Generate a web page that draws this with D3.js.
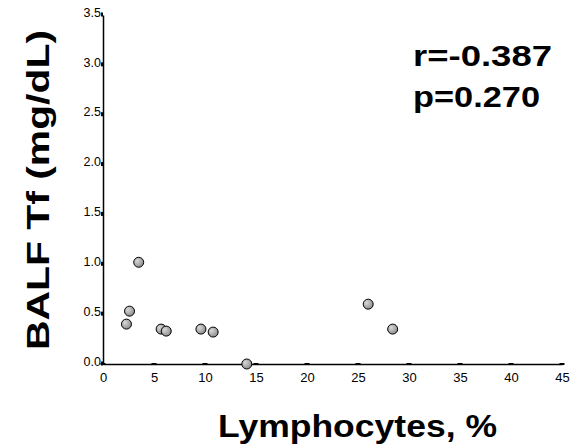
<!DOCTYPE html>
<html><head><meta charset="utf-8">
<script src="https://cdn.jsdelivr.net/npm/d3@7"></script>
<style>body{margin:0;background:#fff}</style></head>
<body><svg id="c" width="571" height="447"></svg>
<script>
const xTicks=[0,5,10,15,20,25,30,35,40,45];
const yTicks=[0.0,0.5,1.0,1.5,2.0,2.5,3.0,3.5];
const lymph=[2.3,2.6,3.5,5.7,6.2,9.6,10.8,14.1,26.0,28.4];
const tf=[0.40,0.53,1.02,0.35,0.33,0.35,0.32,0.0,0.60,0.35];
const stats=["r=-0.387","p=0.270"];
const F="Liberation Sans, Arial, sans-serif";
const svg=d3.select("#c");
const x=d3.scaleLinear().domain([0,45]).range([103,562]);
const y=d3.scaleLinear().domain([0,3.5]).range([364,15]);
const defs=svg.append("defs");
const g=defs.append("radialGradient").attr("id","gr").attr("cx","35%").attr("cy","35%").attr("r","70%");
g.append("stop").attr("offset","0%").attr("stop-color","#d8d8d8");
g.append("stop").attr("offset","100%").attr("stop-color","#8a8a8a");
const xa=svg.append("g").attr("transform","translate(0,364)").call(d3.axisBottom(x).tickValues(xTicks).tickSize(0).tickPadding(9).tickFormat(d3.format("d")));
xa.attr("font-size",13).attr("font-family",F);
xa.select(".domain").attr("stroke","#000").attr("stroke-width",1.5);
xa.selectAll(".tick").append("rect").attr("x",-3).attr("y",-1).attr("width",5).attr("height",2).attr("fill","#000");
const ya=svg.append("g").attr("transform","translate(103,0)").call(d3.axisLeft(y).tickValues(yTicks).tickSize(0).tickPadding(2).tickFormat(d3.format(".1f")));
ya.attr("font-size",12.5).attr("font-family",F);
ya.select(".domain").attr("stroke","#000").attr("stroke-width",1.5);
ya.selectAll("text").attr("dy","0.1em");
ya.selectAll(".tick").append("rect").attr("x",-2).attr("y",-3).attr("width",2).attr("height",4).attr("fill","#000");
svg.selectAll("circle.p").data(lymph).enter().append("circle").attr("class","p")
 .attr("cx",d=>x(d)).attr("cy",(d,i)=>y(tf[i])).attr("r",5)
 .attr("fill","url(#gr)").attr("stroke","#000").attr("stroke-width",1);
svg.append("text").attr("x",218).attr("y",437).attr("font-family",F).attr("font-weight","bold").attr("font-size",31)
 .attr("textLength",279).attr("lengthAdjust","spacingAndGlyphs").text("Lymphocytes, %");
svg.append("text").attr("transform","translate(49,350) rotate(-90)").attr("font-family",F).attr("font-weight","bold").attr("font-size",32)
 .attr("textLength",320).attr("lengthAdjust","spacingAndGlyphs").text("BALF Tf (mg/dL)");
const lens=[139,127];
svg.selectAll("text.st").data(stats).enter().append("text").attr("class","st")
 .attr("x",413).attr("y",(d,i)=>66+i*41).attr("font-family",F).attr("font-weight","bold").attr("font-size",30)
 .attr("textLength",(d,i)=>lens[i]).attr("lengthAdjust","spacingAndGlyphs").text(d=>d);
</script></body></html>
